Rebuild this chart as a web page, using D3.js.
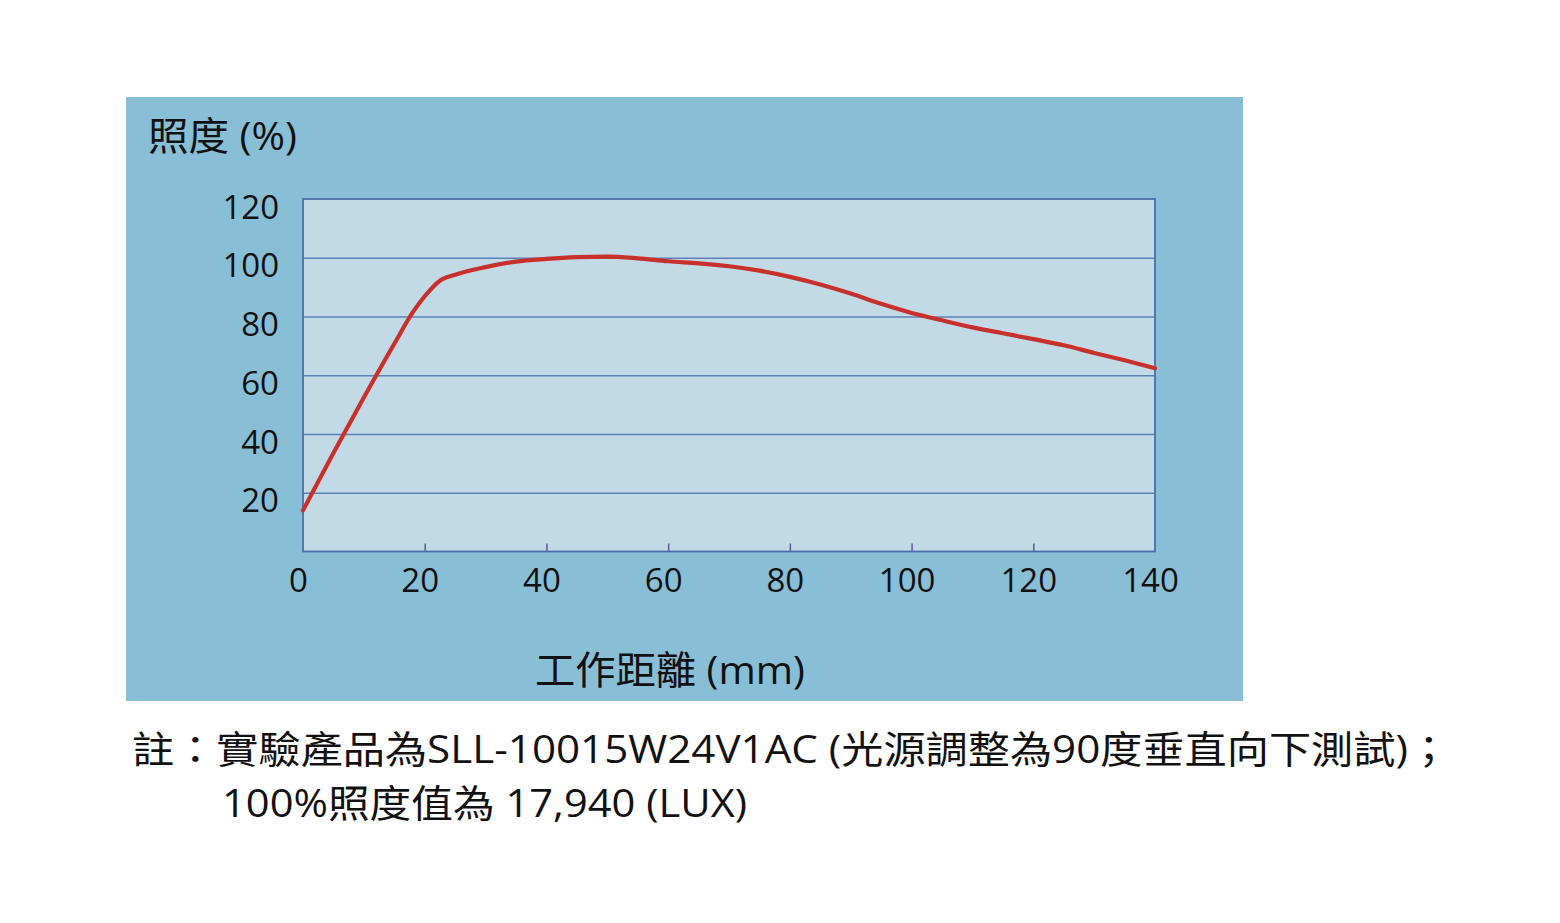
<!DOCTYPE html>
<html><head><meta charset="utf-8">
<script src="https://cdn.jsdelivr.net/npm/d3@7/dist/d3.min.js"></script>
<style>
body{margin:0;background:#fff;}
text{font-family:"Open Sans","Noto Sans CJK TC",sans-serif;fill:#111;}
</style></head><body>
<svg id="c" width="1560" height="923"></svg>
<script>
const distance = [0,5,10,15,18,20,22.5,25,30,35,40,45,50,55,60,65,70,75,80,85,90,95,100,105,110,115,120,125,130,135,140];
const illuminance = [14,33.5,52.4,70.7,81.3,86.9,92.2,94.2,96.8,98.7,99.6,100.2,100.4,99.8,98.8,98.1,97.1,95.6,93.5,90.9,87.8,84.3,81.2,78.7,76.3,74.3,72.3,70.2,67.6,65.1,62.4];
const xTicks = [0,20,40,60,80,100,120,140];
const yTicks = [20,40,60,80,100,120];
const yTitle = "照度 (%)";
const xTitle = "工作距離 (mm)";
const note1 = "註：實驗產品為SLL-10015W24V1AC (光源調整為90度垂直向下測試)；";
const note2 = "100%照度值為 17,940 (LUX)";

const svg = d3.select("#c");
svg.append("rect").attr("x",126).attr("y",97).attr("width",1117).attr("height",604).attr("fill","#89bed7");

const x = d3.scaleLinear().domain([0,140]).range([303,1155]);
const y = d3.scaleLinear().domain([0,120]).range([551.5,199]);

svg.append("rect").attr("x",x(0)).attr("y",y(120)).attr("width",x(140)-x(0)).attr("height",y(0)-y(120))
  .attr("fill","#c2dae6");

const grid = svg.append("g").attr("transform",`translate(${x(0)},0)`)
  .call(d3.axisLeft(y).tickValues([20,40,60,80,100]).tickSize(-(x(140)-x(0))).tickFormat(""));
grid.select(".domain").remove();
grid.selectAll("line").attr("stroke","#5d80b5").attr("stroke-width",1.3);

const xt = svg.append("g").attr("transform",`translate(0,${y(0)})`)
  .call(d3.axisTop(x).tickValues(xTicks.slice(1,-1)).tickSize(8).tickFormat(""));
xt.select(".domain").remove();
xt.selectAll("line").attr("stroke","#5a5a9e").attr("stroke-width",1.5);

svg.append("rect").attr("x",x(0)).attr("y",y(120)).attr("width",x(140)-x(0)).attr("height",y(0)-y(120))
  .attr("fill","none").attr("stroke","#4a6fa8").attr("stroke-width",1.8);

const xl = svg.append("g").attr("transform",`translate(0,${y(0)})`)
  .call(d3.axisBottom(x).tickValues(xTicks).tickSize(0).tickPadding(0));
xl.select(".domain").remove();
xl.selectAll("text").attr("font-size",33).attr("dy",null).attr("y",40).attr("dx",-5)
  .style("font-family",'"Open Sans","Noto Sans CJK TC",sans-serif').attr("fill","#111");

const yl = svg.append("g").attr("transform",`translate(279,0)`)
  .call(d3.axisLeft(y).tickValues(yTicks).tickSize(0).tickPadding(0));
yl.select(".domain").remove();
yl.selectAll("text").attr("font-size",33).attr("dy",null).attr("y",19).attr("x",0)
  .style("font-family",'"Open Sans","Noto Sans CJK TC",sans-serif').attr("fill","#111");

const line = d3.line().x((d,i)=>x(distance[i])).y(d=>y(d)).curve(d3.curveMonotoneX);
svg.append("path").datum(illuminance).attr("d",line).attr("fill","none")
  .attr("stroke","#c8302c").attr("stroke-width",4.2).attr("stroke-linecap","round");

function fitText(sel, w){ sel.attr("textLength",w).attr("lengthAdjust","spacingAndGlyphs"); return sel; }
fitText(svg.append("text").attr("x",148).attr("y",150).attr("font-size",39).text(yTitle),149);
fitText(svg.append("text").attr("x",535).attr("y",684).attr("font-size",39).text(xTitle),270);
fitText(svg.append("text").attr("x",132).attr("y",763).attr("font-size",38).text(note1),1318);
fitText(svg.append("text").attr("x",222).attr("y",817).attr("font-size",38).text(note2),525);
</script></body></html>
